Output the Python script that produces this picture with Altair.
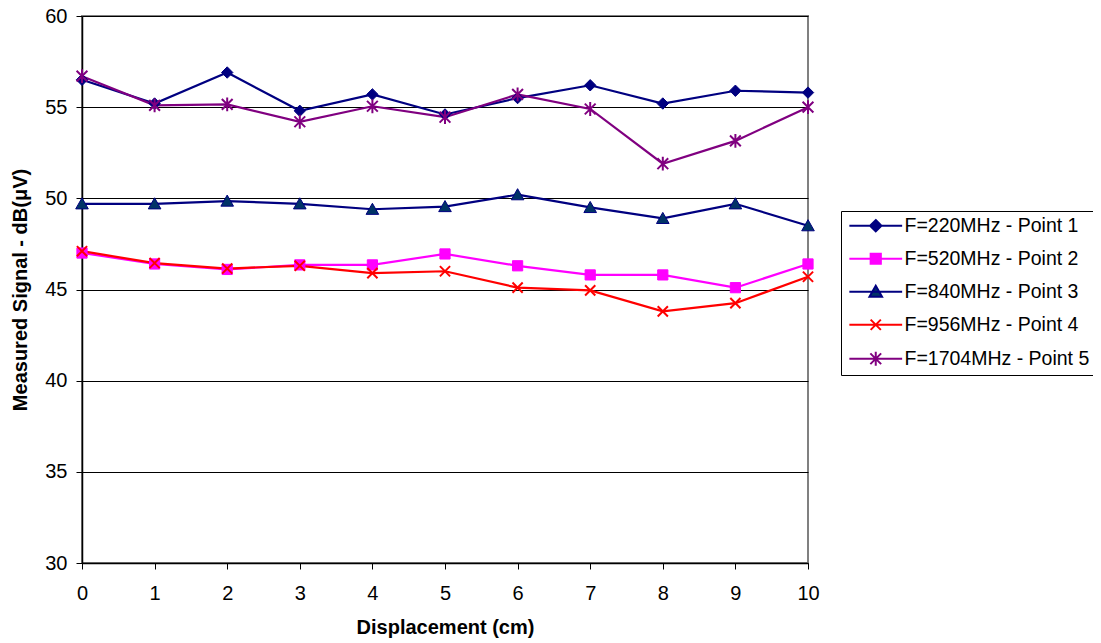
import altair as alt
import pandas as pd

# ---------------- data ----------------
displacement = [0, 1, 2, 3, 4, 5, 6, 7, 8, 9, 10]
series_names = [
    "F=220MHz - Point 1",
    "F=520MHz - Point 2",
    "F=840MHz - Point 3",
    "F=956MHz - Point 4",
    "F=1704MHz - Point 5",
]
p1 = [56.5, 55.2, 56.9, 54.8, 55.7, 54.6, 55.5, 56.2, 55.2, 55.9, 55.8]
p2 = [47.0, 46.4, 46.1, 46.35, 46.35, 46.95, 46.3, 45.8, 45.8, 45.1, 46.4]
p3 = [49.7, 49.7, 49.85, 49.7, 49.4, 49.55, 50.2, 49.5, 48.9, 49.7, 48.5]
p4 = [47.1, 46.45, 46.15, 46.3, 45.9, 46.0, 45.1, 44.95, 43.8, 44.25, 45.7]
p5 = [56.7, 55.1, 55.15, 54.2, 55.05, 54.45, 55.7, 54.9, 51.9, 53.15, 55.0]
y_ticks = [30, 35, 40, 45, 50, 55, 60]

# ---------------- styles ----------------
line_colors = ["#000080", "#FF00FF", "#000080", "#FF0000", "#800080"]
fill_colors = ["#000080", "#FF00FF", "#003366", "#FF0000", "#800080"]
marker_paths = [
    "M0,-0.95L0.95,0L0,0.95L-0.95,0Z",
    "M-0.85,-0.85H0.85V0.85H-0.85Z",
    "M0,-1L1.05,0.85L-1.05,0.85Z",
    "M-0.85,-0.85L0.85,0.85M-0.85,0.85L0.85,-0.85",
    "M-0.9,-0.9L0.9,0.9M-0.9,0.9L0.9,-0.9M0,-1.15V1.15",
]
legend_paths = ["M-4.4,0H4.4" + p for p in marker_paths]
filled_series = series_names[:3]
cross_series = series_names[3:]

FONT = "Liberation Sans"

rows = []
for name, vals in zip(series_names, [p1, p2, p3, p4, p5]):
    for xv, yv in zip(displacement, vals):
        rows.append({"x": xv, "y": yv, "series": name})
df = pd.DataFrame(rows)

x_enc = alt.X(
    "x:Q",
    scale=alt.Scale(domain=[0, 10], nice=False),
    axis=alt.Axis(
        values=displacement,
        format="d",
        title="Displacement (cm)",
        grid=False,
        tickSize=6,
        labelPadding=14,
        labelFontSize=20,
        titleFontSize=20,
        titleFontWeight="bold",
        titleY=64,
        titleBaseline="middle",
        labelFlush=False,
    ),
)
y_enc = alt.Y(
    "y:Q",
    scale=alt.Scale(domain=[30, 60], nice=False, zero=False),
    axis=alt.Axis(
        values=y_ticks,
        format="d",
        title="Measured Signal - dB(μV)",
        grid=True,
        gridColor="#000000",
        gridWidth=1,
        tickSize=6,
        labelPadding=9,
        labelFontSize=20,
        titleFontSize=20,
        titleFontWeight="bold",
        titleX=-62,
        titleBaseline="middle",
        labelFlush=False,
    ),
)

lines = alt.Chart(df).mark_line(strokeWidth=2.2).encode(
    x=x_enc,
    y=y_enc,
    color=alt.Color("series:N", scale=alt.Scale(domain=series_names, range=line_colors), legend=None),
    detail="series:N",
)


def marker_layer(subset, width):
    return alt.Chart(df).transform_filter(
        alt.FieldOneOfPredicate(field="series", oneOf=subset)
    ).mark_point(filled=True, size=144, opacity=1, strokeWidth=width).encode(
        x="x:Q",
        y="y:Q",
        shape=alt.Shape("series:N", scale=alt.Scale(domain=series_names, range=marker_paths), legend=None),
        fill=alt.Fill("series:N", scale=alt.Scale(domain=series_names, range=fill_colors), legend=None),
        stroke=alt.Stroke("series:N", scale=alt.Scale(domain=series_names, range=line_colors), legend=None),
    )


points_filled = marker_layer(filled_series, 1)
points_cross = marker_layer(cross_series, 2)

leg = alt.Legend(
    orient="none",
    legendX=759,
    legendY=195,
    title=None,
    labelFont=FONT,
    labelFontSize=19.5,
    labelColor="#000000",
    labelOffset=19,
    labelLimit=400,
    padding=5,
    rowPadding=12,
    strokeColor="#000000",
    fillColor="#FFFFFF",
    symbolSize=144,
    symbolStrokeWidth=2,
    symbolOffset=20,
)

legend_layer = alt.Chart(df).transform_filter("false").mark_point(
    filled=True, size=144, strokeWidth=2, opacity=1
).encode(
    x="x:Q",
    y="y:Q",
    shape=alt.Shape("series:N", scale=alt.Scale(domain=series_names, range=legend_paths), legend=leg),
    fill=alt.Fill("series:N", scale=alt.Scale(domain=series_names, range=fill_colors), legend=leg),
    stroke=alt.Stroke("series:N", scale=alt.Scale(domain=series_names, range=line_colors), legend=leg),
)

chart = (
    alt.layer(lines, points_filled, points_cross, legend_layer)
    .resolve_scale(shape="independent", fill="independent", stroke="independent")
    .properties(
        width=726,
        height=547,
        padding={"left": 74, "top": 8, "right": 285, "bottom": 75},
        autosize=alt.AutoSizeParams(type="none"),
    )
    .configure(font=FONT)
    .configure_view(stroke="#808080", strokeWidth=2)
    .configure_axis(
        domainColor="#000000",
        domainWidth=1.5,
        tickColor="#000000",
        tickWidth=1,
        labelColor="#000000",
        titleColor="#000000",
        labelFont=FONT,
        titleFont=FONT,
    )
)

chart.save("out.html", embed_options={"renderer": "svg", "actions": False})
